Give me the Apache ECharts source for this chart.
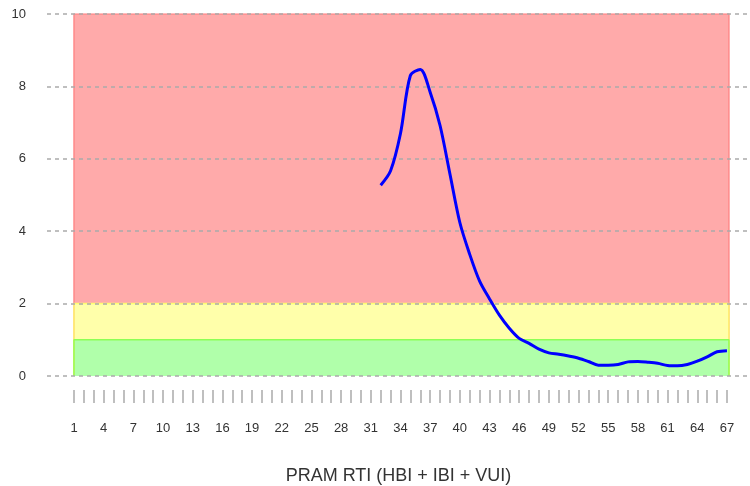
<!DOCTYPE html>
<html>
<head>
<meta charset="utf-8">
<script src="https://cdn.jsdelivr.net/npm/echarts@6/dist/echarts.min.js"></script>
<style>
  html, body { margin: 0; padding: 0; background: #fff; }
  #chart { width: 750px; height: 486px; }
</style>
</head>
<body>
<div id="chart"></div>
<script>
// x positions 1..67, the measurement only starts at 32
const firstX = 32;
const rtiValues = [
  5.27, 5.67, 6.70, 8.30, 8.47, 7.84, 6.92, 5.58, 4.24, 3.36,
  2.62, 2.13, 1.68, 1.32, 1.04, 0.90, 0.74, 0.64, 0.60, 0.55,
  0.49, 0.40, 0.30, 0.30, 0.32, 0.39, 0.40, 0.38, 0.35, 0.29,
  0.28, 0.32, 0.41, 0.53, 0.67, 0.70
];
const xTicks = Array.from({ length: 67 }, (_, i) => i + 1);
const xLabels = xTicks.filter(v => (v - 1) % 3 === 0);

// zone bands: [from, to]
const bandRanges = [[0, 10], [0, 2], [0, 1]];
const bandStart = 1;
const bandEnd = 67.2;
const bandFill = ["#ffaaaa", "#ffffaa", "#b0ffaa"];
const bandEdge = ["#ff8a8a", "#ffff70", "#8cff55"];

const rtiPoints = rtiValues.map((v, i) => [firstX + i, v]);

const xMin = -1.73;
const xMax = 69.33;

const chart = echarts.init(document.getElementById("chart"));

const bandSeries = bandRanges.map((r, i) => ({
  type: "line",
  z: 1,
  silent: true,
  symbol: "none",
  data: [[bandStart, r[0]], [bandStart, r[1]], [bandEnd, r[1]], [bandEnd, r[0]]],
  lineStyle: { color: bandEdge[i], width: 1.5 },
  areaStyle: { color: bandFill[i], opacity: 1, origin: "start" }
}));

chart.setOption({
  animation: false,
  textStyle: { fontFamily: "Liberation Sans, Arial, sans-serif" },
  grid: [
    { left: 47, right: 0, top: 14, bottom: 110, containLabel: false },
    // thin strip below the plot that only carries the tick marks and labels
    { left: 47, right: 0, top: 389, height: 1, containLabel: false }
  ],
  xAxis: [
    {
      type: "value",
      min: xMin,
      max: xMax,
      show: false
    },
    {
      type: "value",
      gridIndex: 1,
      min: xMin,
      max: xMax,
      axisLine: { show: false },
      splitLine: { show: false },
      axisTick: {
        show: true,
        customValues: xTicks,
        length: 13,
        lineStyle: { color: "#aaaaaa", width: 1.5 }
      },
      axisLabel: {
        customValues: xLabels,
        margin: 32,
        fontSize: 13,
        color: "#333"
      },
      name: "PRAM RTI (HBI + IBI + VUI)",
      nameLocation: "middle",
      nameGap: 77,
      nameTextStyle: { fontSize: 18, color: "#333" }
    }
  ],
  yAxis: [
    {
      type: "value",
      z: 2,
      min: 0,
      max: 10,
      interval: 2,
      axisLine: { show: false },
      axisTick: { show: false },
      axisLabel: { margin: 21, fontSize: 13, color: "#333" },
      splitLine: {
        lineStyle: { color: "#aaaaaa", type: [4, 4], width: 1.5 }
      }
    },
    { type: "value", gridIndex: 1, min: 0, max: 1, show: false }
  ],
  series: [
    ...bandSeries,
    {
      type: "line",
      z: 3,
      data: rtiPoints,
      smooth: 0.3,
      showSymbol: false,
      lineStyle: { color: "#0000ff", width: 3 }
    }
  ]
});
</script>
</body>
</html>
